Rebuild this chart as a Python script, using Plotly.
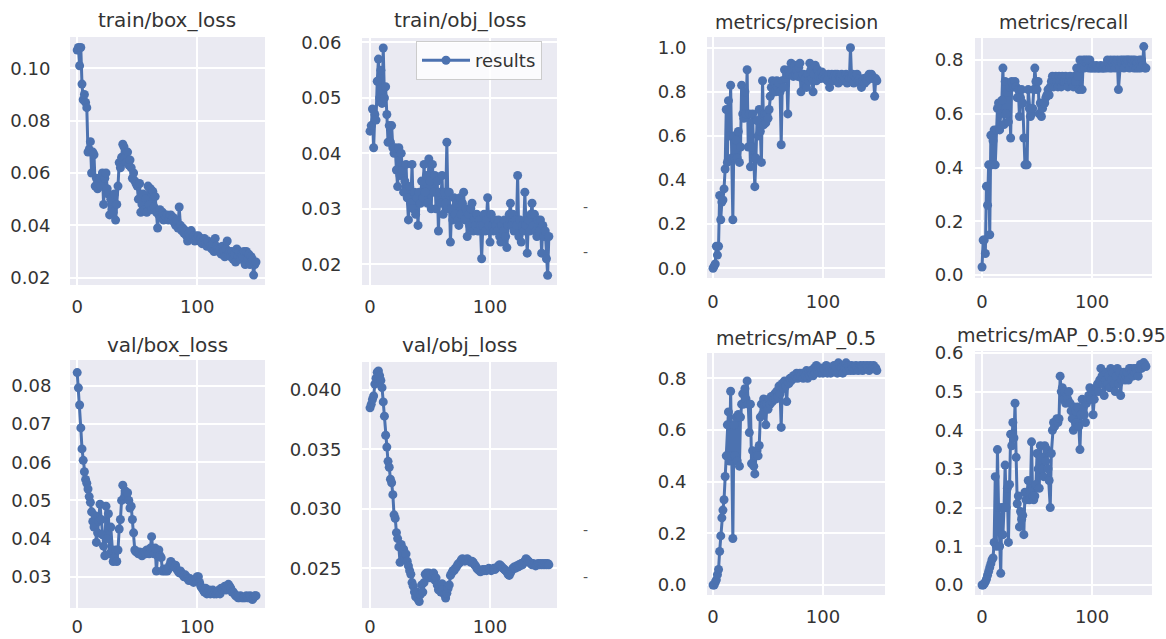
import plotly.graph_objects as go

# ---------------- data ----------------
epochs = list(range(150))

train_box_loss = [
    0.107, 0.108, 0.101, 0.108, 0.094, 0.088, 0.090, 0.087, 0.085, 0.068,
    0.069, 0.072, 0.060, 0.068, 0.067, 0.055, 0.058, 0.054, 0.056, 0.058,
    0.055, 0.060, 0.048, 0.058, 0.060, 0.054, 0.052, 0.044, 0.050, 0.046,
    0.045, 0.052, 0.042, 0.048, 0.055, 0.064, 0.062, 0.066, 0.071, 0.070,
    0.066, 0.064, 0.068, 0.063, 0.065, 0.062, 0.058, 0.060, 0.057, 0.056,
    0.055, 0.050, 0.056, 0.045, 0.048, 0.052, 0.046, 0.050, 0.045, 0.055,
    0.048, 0.054, 0.046, 0.053, 0.047, 0.051, 0.045, 0.039, 0.044, 0.046,
    0.043, 0.045, 0.042, 0.044, 0.043, 0.044, 0.042, 0.043, 0.044, 0.042,
    0.043, 0.041, 0.040, 0.042, 0.039, 0.047, 0.040, 0.038, 0.039, 0.037,
    0.038, 0.036, 0.034, 0.037, 0.036, 0.038, 0.035, 0.036, 0.034, 0.036,
    0.035, 0.036, 0.034, 0.035, 0.033, 0.034, 0.035, 0.033, 0.032, 0.034,
    0.033, 0.032, 0.031, 0.033, 0.030, 0.035, 0.032, 0.031, 0.030, 0.031,
    0.029, 0.032, 0.030, 0.028, 0.031, 0.034, 0.029, 0.030, 0.028, 0.030,
    0.027, 0.029, 0.026, 0.031, 0.028, 0.030, 0.027, 0.029, 0.028, 0.030,
    0.025, 0.030, 0.027, 0.029, 0.025, 0.028, 0.027, 0.021, 0.025, 0.026,
]

train_obj_loss = [
    0.044, 0.045, 0.048, 0.041, 0.047, 0.046, 0.053, 0.057, 0.050, 0.055,
    0.049, 0.059, 0.050, 0.052, 0.047, 0.042, 0.045, 0.042, 0.045, 0.041,
    0.040, 0.041, 0.037, 0.034, 0.041, 0.036, 0.040, 0.037, 0.033, 0.035,
    0.038, 0.032, 0.028, 0.034, 0.031, 0.038, 0.030, 0.033, 0.029, 0.032,
    0.027, 0.033, 0.031, 0.035, 0.032, 0.038, 0.033, 0.036, 0.031, 0.039,
    0.035, 0.030, 0.038, 0.033, 0.036, 0.030, 0.035, 0.026, 0.033, 0.031,
    0.036, 0.029, 0.033, 0.031, 0.042, 0.030, 0.033, 0.024, 0.030, 0.028,
    0.032, 0.029, 0.031, 0.028, 0.027, 0.032, 0.029, 0.031, 0.033, 0.028,
    0.030, 0.025, 0.029, 0.027, 0.030, 0.031, 0.026, 0.028, 0.027, 0.029,
    0.026, 0.028, 0.027, 0.021, 0.027, 0.029, 0.026, 0.028, 0.032, 0.027,
    0.024, 0.029, 0.027, 0.026, 0.028, 0.027, 0.026, 0.028, 0.025, 0.024,
    0.027, 0.026, 0.028, 0.025, 0.023, 0.027, 0.029, 0.031, 0.027, 0.029,
    0.026, 0.028, 0.027, 0.036, 0.025, 0.028, 0.024, 0.027, 0.026, 0.033,
    0.027, 0.022, 0.028, 0.026, 0.029, 0.031, 0.027, 0.029, 0.026, 0.025,
    0.028, 0.026, 0.028, 0.022, 0.027, 0.025, 0.026, 0.021, 0.018, 0.025,
]

precision = [
    0.00, 0.01, 0.02, 0.10, 0.06, 0.10, 0.33, 0.22, 0.30, 0.31,
    0.36, 0.45, 0.72, 0.48, 0.76, 0.60, 0.83, 0.50, 0.22, 0.60,
    0.50, 0.58, 0.50, 0.62, 0.48, 0.55, 0.83, 0.70, 0.68, 0.80,
    0.70, 0.90, 0.55, 0.70, 0.46, 0.55, 0.70, 0.50, 0.37, 0.50,
    0.67, 0.60, 0.72, 0.62, 0.48, 0.85, 0.65, 0.70, 0.66, 0.70,
    0.68, 0.72, 0.78, 0.82, 0.85, 0.80, 0.84, 0.80, 0.85, 0.82,
    0.84, 0.80, 0.56, 0.85, 0.82, 0.90, 0.86, 0.88, 0.70, 0.90,
    0.88, 0.93, 0.90, 0.87, 0.92, 0.88, 0.90, 0.87, 0.91, 0.93,
    0.80, 0.86, 0.88, 0.84, 0.86, 0.82, 0.88, 0.85, 0.93, 0.90,
    0.86, 0.80, 0.88, 0.92, 0.85, 0.90, 0.87, 0.88, 0.86, 0.89,
    0.87, 0.88, 0.86, 0.87, 0.85, 0.88, 0.82, 0.86, 0.88, 0.85,
    0.87, 0.88, 0.86, 0.88, 0.84, 0.87, 0.86, 0.88, 0.85, 0.87,
    0.86, 0.88, 0.84, 0.87, 0.86, 1.00, 0.86, 0.88, 0.84, 0.87,
    0.86, 0.88, 0.85, 0.86, 0.84, 0.82, 0.85, 0.86, 0.84, 0.86,
    0.85, 0.87, 0.88, 0.86, 0.88, 0.87, 0.86, 0.78, 0.86, 0.85,
]

recall = [
    0.03, 0.13, 0.13, 0.08, 0.33, 0.26, 0.41, 0.15, 0.52, 0.41,
    0.50, 0.54, 0.41, 0.54, 0.62, 0.64, 0.54, 0.60, 0.65, 0.77,
    0.56, 0.72, 0.60, 0.68, 0.57, 0.70, 0.51, 0.72, 0.70, 0.70,
    0.72, 0.70, 0.66, 0.69, 0.59, 0.66, 0.69, 0.64, 0.51, 0.41,
    0.41, 0.41, 0.69, 0.62, 0.59, 0.60, 0.62, 0.69, 0.77, 0.72,
    0.69, 0.72, 0.60, 0.64, 0.59, 0.62, 0.64, 0.64, 0.66, 0.67,
    0.69, 0.67, 0.70, 0.72, 0.74, 0.70, 0.72, 0.74, 0.72, 0.70,
    0.74, 0.72, 0.70, 0.74, 0.72, 0.72, 0.74, 0.72, 0.70, 0.72,
    0.74, 0.72, 0.72, 0.70, 0.74, 0.72, 0.77, 0.74, 0.69, 0.80,
    0.77, 0.69, 0.80, 0.77, 0.80, 0.79, 0.80, 0.77, 0.80, 0.77,
    0.77, 0.78, 0.77, 0.77, 0.78, 0.77, 0.77, 0.77, 0.78, 0.77,
    0.77, 0.77, 0.78, 0.77, 0.80, 0.79, 0.77, 0.80, 0.77, 0.79,
    0.80, 0.77, 0.79, 0.80, 0.69, 0.77, 0.80, 0.79, 0.80, 0.77,
    0.80, 0.79, 0.80, 0.80, 0.77, 0.80, 0.79, 0.80, 0.77, 0.80,
    0.77, 0.79, 0.77, 0.80, 0.77, 0.80, 0.78, 0.85, 0.77, 0.77,
]

val_box_loss = [
    0.0835, 0.0795, 0.0750, 0.0690, 0.0635, 0.0605, 0.0575, 0.0555, 0.0545, 0.0530,
    0.0510, 0.0495, 0.0470, 0.0445, 0.0430, 0.0460, 0.0390, 0.0415, 0.0445, 0.0490,
    0.0450, 0.0410, 0.0380, 0.0355, 0.0485, 0.0400, 0.0465, 0.0360, 0.0430, 0.0370,
    0.0340, 0.0350, 0.0370, 0.0340, 0.0370, 0.0425, 0.0450, 0.0500, 0.0540, 0.0505,
    0.0525, 0.0510, 0.0520, 0.0500, 0.0480, 0.0485, 0.0450, 0.0415, 0.0370, 0.0365,
    0.0365, 0.0360, 0.0365, 0.0360, 0.0355, 0.0360, 0.0365, 0.0360, 0.0370, 0.0365,
    0.0360, 0.0375, 0.0405, 0.0370, 0.0360, 0.0375, 0.0315, 0.0355, 0.0370, 0.0355,
    0.0350, 0.0315, 0.0320, 0.0315, 0.0320, 0.0315, 0.0320, 0.0330, 0.0340, 0.0335,
    0.0330, 0.0325, 0.0330, 0.0320, 0.0315, 0.0310, 0.0315, 0.0310, 0.0305, 0.0300,
    0.0305, 0.0300, 0.0295, 0.0290, 0.0295, 0.0290, 0.0290, 0.0285, 0.0290, 0.0295,
    0.0300, 0.0300, 0.0285, 0.0275, 0.0270, 0.0265, 0.0260, 0.0270, 0.0255, 0.0260,
    0.0265, 0.0255, 0.0260, 0.0265, 0.0255, 0.0260, 0.0255, 0.0260, 0.0265, 0.0255,
    0.0270, 0.0265, 0.0270, 0.0275, 0.0265, 0.0270, 0.0280, 0.0275, 0.0270, 0.0260,
    0.0260, 0.0255, 0.0250, 0.0250, 0.0245, 0.0245, 0.0250, 0.0245, 0.0245, 0.0245,
    0.0245, 0.0250, 0.0245, 0.0245, 0.0250, 0.0245, 0.0240, 0.0245, 0.0250, 0.0250,
]

val_obj_loss = [
    0.0385, 0.0388, 0.0392, 0.0395, 0.0405, 0.0410, 0.0415, 0.0416, 0.0412, 0.0408,
    0.0402, 0.0390, 0.0378, 0.0362, 0.0352, 0.0340, 0.0335, 0.0325, 0.0322, 0.0312,
    0.0295, 0.0292, 0.0280, 0.0275, 0.0268, 0.0255, 0.0270, 0.0262, 0.0266, 0.0258,
    0.0262, 0.0256, 0.0252, 0.0248, 0.0245, 0.0238, 0.0235, 0.0230, 0.0226, 0.0230,
    0.0224, 0.0222, 0.0228, 0.0236, 0.0230, 0.0238, 0.0245, 0.0246, 0.0244, 0.0246,
    0.0242, 0.0245, 0.0244, 0.0246, 0.0240, 0.0242, 0.0236, 0.0232, 0.0234, 0.0230,
    0.0237, 0.0232, 0.0228, 0.0225, 0.0229, 0.0233, 0.0236, 0.0244, 0.0246, 0.0248,
    0.0248, 0.0250, 0.0251, 0.0253, 0.0254, 0.0255, 0.0257, 0.0258, 0.0257, 0.0256,
    0.0257, 0.0258, 0.0257, 0.0256, 0.0255, 0.0256, 0.0255, 0.0253, 0.0252, 0.0250,
    0.0249, 0.0248, 0.0247, 0.0248, 0.0249, 0.0248, 0.0249, 0.0248, 0.0249, 0.0250,
    0.0249, 0.0248, 0.0249, 0.0250, 0.0249, 0.0250, 0.0251, 0.0252, 0.0253, 0.0252,
    0.0251, 0.0250, 0.0249, 0.0248, 0.0247, 0.0245, 0.0244, 0.0246, 0.0248, 0.0250,
    0.0251, 0.0250, 0.0252, 0.0251, 0.0253, 0.0252, 0.0254, 0.0253, 0.0255, 0.0256,
    0.0258, 0.0257, 0.0256, 0.0255, 0.0254, 0.0253, 0.0254, 0.0253, 0.0252, 0.0253,
    0.0254, 0.0253, 0.0254, 0.0253, 0.0254, 0.0253, 0.0254, 0.0253, 0.0254, 0.0253,
]

map_05 = [
    0.00, 0.00, 0.01, 0.02, 0.04, 0.06, 0.13, 0.19, 0.26, 0.29,
    0.33, 0.42, 0.50, 0.62, 0.67, 0.48, 0.75, 0.50, 0.18, 0.62,
    0.50, 0.65, 0.48, 0.66, 0.46, 0.65, 0.70, 0.74, 0.70, 0.76,
    0.72, 0.79, 0.70, 0.59, 0.70, 0.47, 0.52, 0.46, 0.43, 0.50,
    0.52, 0.50, 0.54, 0.65, 0.70, 0.66, 0.72, 0.70, 0.62, 0.70,
    0.68, 0.72, 0.70, 0.73, 0.71, 0.72, 0.74, 0.72, 0.75, 0.73,
    0.77, 0.74, 0.61, 0.78, 0.76, 0.79, 0.77, 0.71, 0.79, 0.78,
    0.80, 0.79, 0.80, 0.81, 0.80, 0.81, 0.82, 0.80, 0.81, 0.82,
    0.81, 0.82, 0.80, 0.82, 0.81, 0.83, 0.80, 0.82, 0.81, 0.83,
    0.82, 0.81, 0.84, 0.82, 0.85, 0.83, 0.84, 0.82, 0.84, 0.83,
    0.82, 0.84, 0.83, 0.85, 0.82, 0.84, 0.83, 0.82, 0.84, 0.83,
    0.85, 0.83, 0.84, 0.82, 0.86, 0.84, 0.83, 0.84, 0.82, 0.85,
    0.84, 0.86, 0.83, 0.85, 0.84, 0.83, 0.85, 0.84, 0.83, 0.84,
    0.85, 0.84, 0.83, 0.84, 0.85, 0.84, 0.83, 0.85, 0.84, 0.84,
    0.85, 0.84, 0.83, 0.85, 0.84, 0.84, 0.85, 0.84, 0.84, 0.83,
]

map_05_095 = [
    0.000, 0.000, 0.003, 0.008, 0.015, 0.025, 0.035, 0.045, 0.055, 0.065,
    0.070, 0.110, 0.280, 0.100, 0.350, 0.200, 0.100, 0.030, 0.200, 0.130,
    0.200, 0.310, 0.200, 0.250, 0.110, 0.260, 0.390, 0.360, 0.420, 0.380,
    0.470, 0.330, 0.210, 0.230, 0.150, 0.190, 0.170, 0.180, 0.130, 0.240,
    0.220, 0.240, 0.270, 0.220, 0.240, 0.370, 0.230, 0.220, 0.230, 0.260,
    0.340, 0.300, 0.250, 0.360, 0.330, 0.300, 0.280, 0.360, 0.320, 0.350,
    0.300, 0.270, 0.200, 0.340, 0.400, 0.420, 0.410, 0.420, 0.430, 0.420,
    0.430, 0.540, 0.500, 0.510, 0.480, 0.500, 0.470, 0.490, 0.480, 0.500,
    0.470, 0.450, 0.430, 0.400, 0.460, 0.450, 0.420, 0.460, 0.410, 0.350,
    0.440, 0.480, 0.460, 0.440, 0.420, 0.470, 0.480, 0.490, 0.510, 0.480,
    0.500, 0.440, 0.480, 0.500, 0.510, 0.520, 0.500, 0.530, 0.560, 0.540,
    0.520, 0.490, 0.530, 0.550, 0.520, 0.540, 0.510, 0.560, 0.530, 0.550,
    0.520, 0.500, 0.540, 0.560, 0.520, 0.550, 0.490, 0.530, 0.540, 0.550,
    0.530, 0.540, 0.550, 0.530, 0.560, 0.560, 0.550, 0.540, 0.560, 0.550,
    0.560, 0.550, 0.540, 0.560, 0.570, 0.560, 0.570, 0.575, 0.570, 0.565,
]

titles = ["train/box_loss", "train/obj_loss", "metrics/precision", "metrics/recall",
          "val/box_loss", "val/obj_loss", "metrics/mAP_0.5", "metrics/mAP_0.5:0.95"]

x_tick_vals = [0, 100]
x_tick_text = ["0", "100"]

yticks_train_box = [0.02, 0.04, 0.06, 0.08, 0.10]
ylabels_train_box = ["0.02", "0.04", "0.06", "0.08", "0.10"]
yticks_train_obj = [0.02, 0.03, 0.04, 0.05, 0.06]
ylabels_train_obj = ["0.02", "0.03", "0.04", "0.05", "0.06"]
yticks_precision = [0.0, 0.2, 0.4, 0.6, 0.8, 1.0]
ylabels_precision = ["0.0", "0.2", "0.4", "0.6", "0.8", "1.0"]
yticks_recall = [0.0, 0.2, 0.4, 0.6, 0.8]
ylabels_recall = ["0.0", "0.2", "0.4", "0.6", "0.8"]
yticks_val_box = [0.03, 0.04, 0.05, 0.06, 0.07, 0.08]
ylabels_val_box = ["0.03", "0.04", "0.05", "0.06", "0.07", "0.08"]
yticks_val_obj = [0.025, 0.030, 0.035, 0.040]
ylabels_val_obj = ["0.025", "0.030", "0.035", "0.040"]
yticks_map05 = [0.0, 0.2, 0.4, 0.6, 0.8]
ylabels_map05 = ["0.0", "0.2", "0.4", "0.6", "0.8"]
yticks_map0595 = [0.0, 0.1, 0.2, 0.3, 0.4, 0.5, 0.6]
ylabels_map0595 = ["0.0", "0.1", "0.2", "0.3", "0.4", "0.5", "0.6"]

legend_name = "results"

# ---------------- layout / style ----------------
W, H = 1166, 639
LINE = "#4C72B0"
BG = "#EAEAF2"
TXT = "#333333"
FONT = "DejaVu Sans"

series = [train_box_loss, train_obj_loss, precision, recall,
          val_box_loss, val_obj_loss, map_05, map_05_095]
yticks = [(yticks_train_box, ylabels_train_box), (yticks_train_obj, ylabels_train_obj),
          (yticks_precision, ylabels_precision), (yticks_recall, ylabels_recall),
          (yticks_val_box, ylabels_val_box), (yticks_val_obj, ylabels_val_obj),
          (yticks_map05, ylabels_map05), (yticks_map0595, ylabels_map0595)]

# pixel boxes (left, right, top, bottom)
boxes = [(70, 265, 37, 285), (362, 557, 38, 285), (707, 885, 37, 278), (975, 1152, 38, 278),
         (70, 265, 360, 608), (362, 557, 362, 608), (707, 885, 353, 595), (975, 1152, 351, 595)]
xranges = [(-6.0, 156.5), (-6.7, 155.8), (-5.5, 156.4), (-6.4, 154.5)] * 2
yranges = [(0.0172, 0.1120), (0.01626, 0.0608), (-0.044, 1.0485), (-0.011, 0.882),
           (0.0218, 0.0868), (0.02166, 0.04236), (-0.0387, 0.898), (-0.026, 0.605)]
xticklen = [5, 5, 7, 7, 2, 2, 5, 5]
yticklen = [15, 16, 16, 7, 14, 16, 16, 7]
title_pos = [(167, 20), (460, 20), (796, 22), (1063, 22),
             (167, 345), (460, 345), (796, 338), (1061, 335)]
title_size = [20, 20, 19, 19, 20, 20, 19, 19]

fig = go.Figure()
layout = dict(
    template="none",
    width=W, height=H, margin=dict(l=0, r=0, t=0, b=0, pad=0, autoexpand=False),
    paper_bgcolor="white", plot_bgcolor=BG,
    font=dict(family=FONT, size=18, color=TXT),
    showlegend=True,
    legend=dict(x=416 / W, y=1 - 41 / H, xanchor="left", yanchor="top",
                bgcolor="rgba(255,255,255,0.8)", bordercolor="#cccccc", borderwidth=1,
                itemwidth=48,
                font=dict(family=FONT, size=18, color=TXT)),
    annotations=[], shapes=[],
)

for i in range(8):
    n = i + 1
    xa = "x" if n == 1 else f"x{n}"
    ya = "y" if n == 1 else f"y{n}"
    fig.add_trace(go.Scatter(
        x=epochs, y=series[i], mode="lines+markers",
        line=dict(color=LINE, width=3),
        marker=dict(color=LINE, size=9),
        name=legend_name, showlegend=(i == 1),
        xaxis=xa, yaxis=ya,
    ))
    l, r, t, b = boxes[i]
    layout["xaxis" if n == 1 else f"xaxis{n}"] = dict(
        domain=[l / W, r / W], anchor=ya, range=list(xranges[i]), automargin=False,
        tickvals=x_tick_vals, ticktext=x_tick_text,
        showgrid=True, gridcolor="white", gridwidth=1.6, zeroline=False, showline=False,
        ticks="outside", ticklen=xticklen[i], tickcolor="rgba(0,0,0,0)",
        tickfont=dict(family=FONT, size=18, color=TXT),
    )
    tv, tt = yticks[i]
    layout["yaxis" if n == 1 else f"yaxis{n}"] = dict(
        domain=[1 - b / H, 1 - t / H], anchor=xa, range=list(yranges[i]), automargin=False,
        tickvals=tv, ticktext=tt,
        showgrid=True, gridcolor="white", gridwidth=1.6, zeroline=False, showline=False,
        ticks="outside", ticklen=yticklen[i], tickcolor="rgba(0,0,0,0)",
        tickfont=dict(family=FONT, size=18, color=TXT),
    )
    cx, cy = title_pos[i]
    layout["annotations"].append(dict(
        text=titles[i], x=cx / W, y=1 - cy / H, xref="paper", yref="paper",
        xanchor="center", yanchor="middle", showarrow=False,
        font=dict(family=FONT, size=title_size[i], color=TXT),
    ))

# small stray dash marks present in the reference image
for (mx, my) in [(585, 207), (585, 252), (585, 530), (585, 577)]:
    layout["annotations"].append(dict(
        text="-", x=mx / W, y=1 - my / H, xref="paper", yref="paper",
        xanchor="center", yanchor="middle", showarrow=False,
        font=dict(family=FONT, size=14, color="#555555"),
    ))

fig.update_layout(**layout)
fig.write_html("out.html", config={"displayModeBar": False},
               post_script="document.body.style.margin='0px';document.body.style.overflow='hidden';")
